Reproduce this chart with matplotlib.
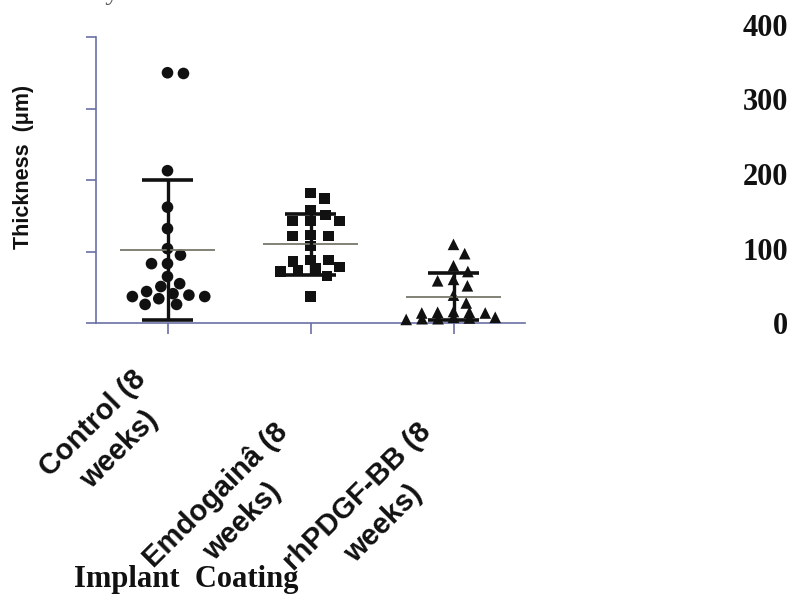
import numpy as np
import matplotlib
matplotlib.use("Agg")
import matplotlib.pyplot as plt

# values
groups = ["Control (8\nweeks)", "Emdogainâ (8\nweeks)", "rhPDGF-BB (8\nweeks)"]
control = [350, 349, 213, 162, 132, 104, 95, 83, 83, 65, 55, 51, 44, 41, 39, 37, 37, 34, 26, 26]
emdogain = [182, 174, 158, 151, 143, 143, 143, 123, 122, 122, 108, 88, 88, 86, 78, 76, 74, 72, 66, 37]
rhpdgf = [110, 97, 80, 72, 61, 59, 52, 39, 28, 16, 15, 15, 14, 14, 8, 8, 7, 6, 6, 5]
means = [102, 110, 37]
sds = [98, 43, 33]
left_ticks = [0, 100, 200, 300, 400]
right_ticks = [0, 100, 200, 300, 400]

axis_col = "#6a6fa5"
sans = "Liberation Sans"
serif = "Liberation Serif"

fig = plt.figure(figsize=(7.93, 5.96), dpi=100)
ax = fig.add_axes([96 / 793, 273 / 596, 429 / 793, 286 / 596])
ax.set_xlim(-0.5, 2.5)
ax.set_ylim(0, 400)


def swarm(values, center, wx, wy, wy_low=None, low_cut=20):
    # beeswarm in pixel space, elliptic spacing (wider sideways, like the original);
    # points near zero may pack tighter vertically (wy_low)
    pts = ax.transData.transform(np.column_stack([np.full(len(values), center), values]))
    wys = [wy_low if (wy_low and v < low_cut) else wy for v in values]
    placed = []
    xs = []
    for (cx, cy), wa in zip(pts, wys):
        cands = [0.0]
        for px, py, wb in placed:
            dy = (cy - py) / min(wa, wb)
            if abs(dy) < 1:
                w = wx * np.sqrt(1 - dy ** 2)
                cands += [px + w, px - w]
        cands.sort(key=abs)
        best = cands[-1]
        for c in cands:
            if all(((c - px) / wx) ** 2 + ((cy - py) / min(wa, wb)) ** 2 >= 1 - 1e-6
                   for px, py, wb in placed):
                best = c
                break
        placed.append((best, cy, wa))
        xs.append(cx + best)
    back = ax.transData.inverted().transform(np.column_stack([xs, pts[:, 1]]))
    return back[:, 0]


series = [control, emdogain, rhpdgf]
markers = ["o", "s", "^"]
sizes = [70, 56, 70]
spacing = [(16, 11, None), (18, 9, None), (16, 13, 5.5)]
for i, vals in enumerate(series):
    xs = swarm(vals, i, *spacing[i])
    ax.scatter(xs, vals, marker=markers[i], s=sizes[i], color="#111111",
               edgecolors="none", zorder=3, clip_on=False)
    m, s = means[i], sds[i]
    ax.hlines(m, i - 0.335, i + 0.335, color="#77776a", lw=1.3, zorder=4)
    ax.vlines(i, max(m - s, 0), m + s, color="#111111", lw=2.4, zorder=4, clip_on=False)
    ax.hlines([max(m - s, 0), m + s], i - 0.175, i + 0.175, color="#111111",
              lw=2.6, zorder=4, clip_on=False)

for side in ["top", "right"]:
    ax.spines[side].set_visible(False)
for side in ["left", "bottom"]:
    ax.spines[side].set_color(axis_col)
    ax.spines[side].set_linewidth(1.2)
ax.set_yticks(left_ticks)
ax.set_yticklabels([])
ax.set_xticks([0, 1, 2])
ax.set_xticklabels([])
ax.tick_params(axis="y", length=7, width=1.2, color=axis_col)
ax.tick_params(axis="x", length=8, width=1.2, color=axis_col)

# rotated category labels
offsets = [(-9, -47), (-10, -85), (-10, -85)]
for i, lab in enumerate(groups):
    ax.annotate(lab, xy=(i, 0), xycoords=("data", "axes fraction"),
                xytext=offsets[i], textcoords="offset points",
                rotation=45, rotation_mode="anchor", ha="right", va="center",
                multialignment="center", linespacing=1.45,
                fontsize=21, fontweight="bold", family=sans, color="#111111")

fig.text(24 / 793, 1 - 167 / 596, "Thickness  (μm)", rotation=90, ha="center", va="center",
         fontsize=15.5, fontweight="bold", family=sans, color="#111111")
fig.text(186 / 793, 1 - 580 / 596, "Implant  Coating", ha="center", va="center",
         fontsize=22, fontweight="bold", family=serif, color="#111111")

# numbers standing at the right edge
ax2 = fig.add_axes([788 / 793, 273 / 596, 0.001, 298 / 596])
ax2.set_ylim(0, 400)
ax2.set_yticks(right_ticks)
ax2.set_yticklabels([str(t) for t in right_ticks], fontsize=22, fontweight="bold",
                    family=serif, color="#111111")
ax2.tick_params(axis="y", length=0, pad=0)
ax2.set_xticks([])
for side in ax2.spines.values():
    side.set_visible(False)
ax2.patch.set_visible(False)

# caption line cut off at the top edge, as in the original crop
fig.text(-0.005, 1 + 1 / 596, "e   is as layer of new tissue   Thickness   measurements",
         ha="left", va="baseline", fontsize=20, family=serif, color="#555555")

fig.savefig("out.png", dpi=100)
